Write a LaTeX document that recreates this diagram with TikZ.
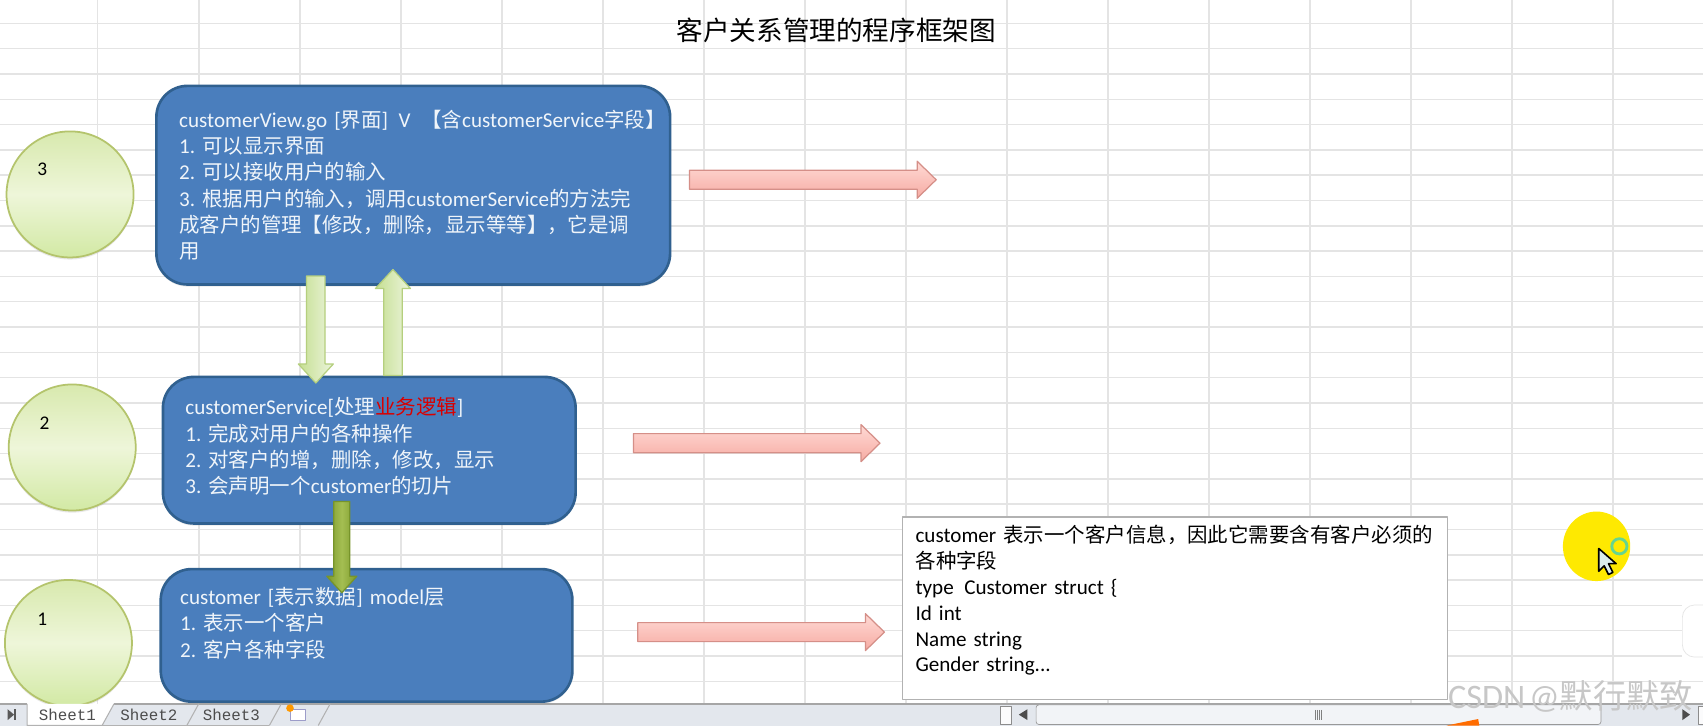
\documentclass[tikz,border=0pt]{standalone}
\usepackage{fontspec}
\setmainfont[WordSpace=0.5]{Carlito}
\newfontfamily\zhfont[Scale=0.97]{Noto Sans CJK SC}
\newfontfamily\sheetfont{Liberation Mono}
\newcommand{\zh}[1]{{\zhfont #1}}
\AtBeginDocument{\frenchspacing}
\usetikzlibrary{arrows.meta,calc,positioning,shadows,shapes.geometric}

\definecolor{gridline}{HTML}{E4E4E4}
\definecolor{boxblue}{HTML}{4A7EBD}
\definecolor{boxedge}{HTML}{30608F}
\definecolor{barcolor}{HTML}{E3E7ED}
\definecolor{bubbleedge}{HTML}{B4C46C}
\definecolor{bubbletop}{HTML}{D8E9AE}
\definecolor{bubblemid}{HTML}{EEF6D9}
\definecolor{bubblelow}{HTML}{D2E9A4}
\definecolor{pinkedge}{HTML}{D58F88}
\definecolor{pinktop}{HTML}{FFDAD5}
\definecolor{pinklow}{HTML}{F6ABA3}
\definecolor{greenedge}{HTML}{B5CF7E}
\definecolor{greenleft}{HTML}{C6DF92}
\definecolor{greenright}{HTML}{EBF4DC}
\definecolor{oliveedge}{HTML}{77942A}
\definecolor{oliveside}{HTML}{7C9A2B}
\definecolor{olivemid}{HTML}{A4BE52}

\begin{document}
\begin{tikzpicture}[
    x=0.02172cm,
    y=-0.02172cm,
    line join=round,
    bluebox/.style={
        draw=boxedge,
        line width=1.5pt,
        fill=boxblue,
        rounded corners=0.62cm,
        drop shadow={opacity=0.18, shadow xshift=0pt, shadow yshift=-1.2pt},
        text=white!92!boxblue,
        align=left,
        inner sep=0pt,
        font=\fontsize{12}{15}\selectfont
    },
    bubble/.style={
        draw=bubbleedge,
        line width=1pt,
        ellipse,
        minimum width=2.54cm,
        minimum height=2.52cm,
        drop shadow={opacity=0.18, shadow xshift=0pt, shadow yshift=-1.2pt},
        bottom color=bubblelow,
        top color=bubbletop,
        middle color=bubblemid
    },
    digit/.style={font=\fontsize{11}{13}\selectfont, inner sep=0pt},
    notebox/.style={
        draw=black!30,
        line width=0.8pt,
        fill=white,
        align=left,
        inner sep=0pt,
        minimum width=10.9cm,
        minimum height=3.65cm,
        text width=10.38cm,
        font=\fontsize{12}{14.7}\selectfont
    },
    % three sizes: half shaft, half head, head length
    bigarrow/.style n args={3}{
        line width=0.7pt,
        to path={
            ($(\tikztostart)!#1!90:(\tikztotarget)$)
            -- ($(\tikztotarget)!#3!(\tikztostart)!#1!90:(\tikztotarget)$)
            -- ($(\tikztotarget)!#3!(\tikztostart)!#2!90:(\tikztotarget)$)
            -- (\tikztotarget)
            -- ($(\tikztotarget)!#3!(\tikztostart)!#2!-90:(\tikztotarget)$)
            -- ($(\tikztotarget)!#3!(\tikztostart)!#1!-90:(\tikztotarget)$)
            -- ($(\tikztostart)!#1!-90:(\tikztotarget)$)
            -- cycle
        }
    },
    pinkarrow/.style={
        bigarrow={0.19cm}{0.37cm}{0.38cm},
        draw=pinkedge,
        top color=pinktop,
        bottom color=pinklow
    },
    greenarrow/.style={
        bigarrow={0.185cm}{0.35cm}{0.38cm},
        draw=greenedge,
        left color=greenleft,
        right color=greenright
    },
    olivearrow/.style={
        bigarrow={0.16cm}{0.30cm}{0.33cm},
        draw=oliveedge,
        left color=oliveside,
        right color=oliveside,
        middle color=olivemid
    },
    tabtext/.style={font=\sheetfont\fontsize{9}{11}\selectfont, text=black!70, inner sep=0pt}
]
\useasboundingbox (0,0) rectangle (1568,668);
\fill[white] (0,0) rectangle (1568,668);

% sheet grid
\foreach \gx in {90,183,...,1560}
    \draw[gridline, line width=0.85pt] (\gx,0) -- (\gx,648);
\foreach \gy in {0,...,26}
    \draw[gridline, line width=0.85pt] (0,21.5+23.3*\gy) -- (1568,21.5+23.3*\gy);

% =========================
% Nodes
% =========================
\node[font=\zhfont\fontsize{15.6}{18}\selectfont, inner sep=0pt] (title) at (770,28) {客户关系管理的程序框架图};

\node[bubble] (layerthree) at (64.5,179) {};
\node[bubble] (layertwo) at (66.5,412) {};
\node[bubble] (layerone) at (63,592) {};
\node[digit] (numthree) at (39,156) {3};
\node[digit] (numtwo) at (41,390) {2};
\node[digit] (numone) at (39,570) {1};

\node[bluebox, minimum width=10.27cm, minimum height=3.97cm, text width=9.36cm] (view) at (380.5,170.5) {%
\makebox[9.36cm][l]{customerView.go [\zh{界面}] \,V \,\zh{【含}customerService\zh{字段】}}\\
1. \zh{可以显示界面}\\
2. \zh{可以接收用户的输入}\\
3. \zh{根据用户的输入，调用}customerService\zh{的方法完}\\
\zh{成客户的管理【修改，删除，显示等等】，它是调}\\
\zh{用}};

\node[bluebox, minimum width=8.25cm, minimum height=2.93cm, text width=7.35cm, text depth=50pt] (service) at (340,414.5) {%
customerService[\zh{处理}{\zhfont\color{red!85!black}业务逻辑}]\\
1. \zh{完成对用户的各种操作}\\
2. \zh{对客户的增，删除，修改，显示}\\
3. \zh{会声明一个}customer\zh{的切片}};

\node[bluebox, minimum width=8.23cm, minimum height=2.65cm, text width=7.45cm, text depth=45pt] (customer) at (337.5,585) {%
customer [\zh{表示数据}] model\zh{层}\\
1. \zh{表示一个客户}\\
2. \zh{客户各种字段}};

\node[notebox, text depth=84.5pt] (note) at (1082,560) {%
customer \zh{表示一个客户信息，因此它需要含有客户必须的}\\
\zh{各种字段}\\
type \,Customer struct \{\\
Id int\\
Name string\\
Gender string...};

% =========================
% Connector ends
% =========================
\coordinate (viewdown) at ([shift={(-89.7,-9)}]view.south);
\coordinate (servicein) at ([shift={(-49.2,6.8)}]service.north);
\coordinate (serviceup) at ([shift={(21.8,0)}]service.north);
\coordinate (viewin) at ([shift={(-18.7,-15)}]view.south);
\coordinate (servicedown) at ([shift={(-25.3,-21.5)}]service.south);
\coordinate (customerin) at ([shift={(-22.8,23)}]customer.north);
\coordinate (viewout) at ([shift={(16.7,-5)}]view.east);
\coordinate[right=4.93cm of viewout] (viewto);
\coordinate (serviceout) at ([shift={(52,-6.5)}]service.east);
\coordinate[right=4.93cm of serviceout] (serviceto);
\coordinate (customerout) at ([shift={(59,-3)}]customer.east);
\coordinate[right=4.93cm of customerout] (customerto);

\draw[greenarrow] (viewdown) to (servicein);
\draw[greenarrow] (serviceup) to (viewin);
\draw[olivearrow] (servicedown) to (customerin);
\draw[pinkarrow] (viewout) to (viewto);
\draw[pinkarrow] (serviceout) to (serviceto);
\draw[pinkarrow] (customerout) to (customerto);

% =========================
% Mouse pointer and widget
% =========================
\fill[yellow!92!orange] (1470,503) ellipse (31 and 32);
\draw[teal!55!green!60, line width=1.6pt] (1491,503) circle (7);
\draw[black, fill=teal!15!white, line width=0.9pt]
    (1472,505) -- (1472,526) -- (1477,521) -- (1481,529) -- (1485,527) -- (1481,519) -- (1488,519) -- cycle;
\fill[white] (1549,557) rectangle (1568,605);
\draw[black!10, rounded corners=7pt] (1568,557) -- (1549,557) -- (1549,605) -- (1568,605);

% =========================
% Tab bar
% =========================
\fill[barcolor] (0,648) rectangle (1568,668);
\draw[black!35, line width=0.8pt] (0,648) -- (25,648);
\draw[black!35, line width=0.8pt] (105,648) -- (1568,648);
\fill[white] (25,648) -- (25,668) -- (94,668) -- (105,648) -- cycle;
\draw[black!30, line width=0.6pt] (25,648) -- (25,668) -- (94,668) -- (105,648);
\foreach \tabx in {172,248,293}
    \draw[black!30, line width=0.6pt] (\tabx,668) -- (\tabx+11,648);
\draw[black!30, line width=0.6pt] (94,668) -- (172,668) (172,668) -- (248,668);
\node[tabtext] (sheetone) at (62,658) {Sheet1};
\node[tabtext] (sheettwo) at (137,658) {Sheet2};
\node[tabtext] (sheetthree) at (213,658) {Sheet3};
\fill[black!65] (7,653) -- (13,658) -- (7,663) -- cycle;
\fill[black!65] (13,653) rectangle (14.5,663);
\draw[blue!30!gray!60, fill=white] (267,653) rectangle (281,663);
\fill[orange!80!yellow] (267,652) circle (3.5);
% scroll bar
\draw[black!45, fill=white!85!barcolor] (921,650) rectangle (931,667);
\fill[black!70] (946,653) -- (946,663) -- (938,658) -- cycle;
\draw[black!40, fill=white!55!barcolor, rounded corners=1.5pt] (954,649) rectangle (1474,667);
\foreach \gripx in {1211,1213,...,1217}
    \draw[black!50, line width=0.4pt] (\gripx,653.5) -- (\gripx,662.5);
\fill[black!70] (1549,653) -- (1549,663) -- (1556,658) -- cycle;
\draw[black!45, fill=white!85!barcolor] (1564,650) rectangle (1572,667);
\fill[orange!85!red] (1332,668) -- (1361,662) -- (1362,668) -- cycle;

% watermark
\node[font=\fontsize{19.5}{22}\selectfont, text=black!22, inner sep=0pt] (mark) at (1446,641) {CSDN @\zh{默行默致}};

\end{tikzpicture}
\end{document}
